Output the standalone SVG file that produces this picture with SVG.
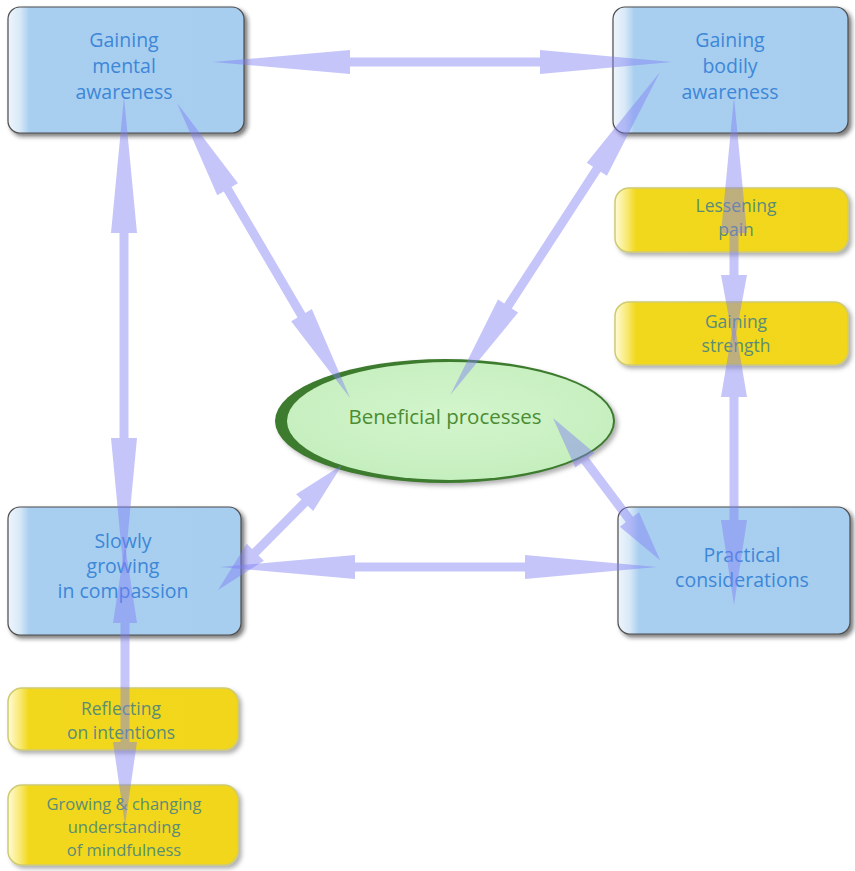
<svg xmlns="http://www.w3.org/2000/svg" width="855" height="871" viewBox="0 0 855 871">
  <defs>
    <linearGradient id="blueFill" x1="0" y1="0" x2="1" y2="0">
      <stop offset="0" stop-color="#eef5fc"/>
      <stop offset="0.05" stop-color="#d9e9f7"/>
      <stop offset="0.09" stop-color="#a9cff0"/>
      <stop offset="1" stop-color="#a7cdef"/>
    </linearGradient>
    <linearGradient id="yellowFill" x1="0" y1="0" x2="1" y2="0">
      <stop offset="0" stop-color="#fffbd6"/>
      <stop offset="0.05" stop-color="#f8ea78"/>
      <stop offset="0.09" stop-color="#f2d81c"/>
      <stop offset="1" stop-color="#f1d61a"/>
    </linearGradient>
    <radialGradient id="greenFill" cx="0.5" cy="0.45" r="0.6">
      <stop offset="0" stop-color="#d3f5cc"/>
      <stop offset="1" stop-color="#c4eebd"/>
    </radialGradient>
    <filter id="shadow" x="-10%" y="-10%" width="125%" height="130%">
      <feDropShadow dx="3" dy="3" stdDeviation="2" flood-color="#222" flood-opacity="0.6"/>
    </filter>
    <filter id="softShadow" x="-10%" y="-10%" width="125%" height="130%">
      <feDropShadow dx="3" dy="3" stdDeviation="2" flood-color="#555" flood-opacity="0.45"/>
    </filter>
  </defs>
  <style>
    .box { fill: url(#blueFill); stroke: #4d4d4d; stroke-width: 1.2; filter: url(#shadow); }
    .note { fill: url(#yellowFill); stroke: #cfcb72; stroke-width: 1.5; filter: url(#softShadow); }
    .t { font-family: "Open Sans", "Liberation Sans", sans-serif; text-anchor: middle; }
    .tb { fill: #3d87d8; font-size: 19.5px; }
    .ty { fill: #5b8c76; font-size: 17.5px; }
    .tg { fill: #4c8c33; font-size: 20.5px; }
    .arrow { fill: #7f7ff5; opacity: 0.45; }
  </style>

  <rect width="855" height="871" fill="#ffffff"/>

  <g id="mental-awareness">
    <rect class="box" x="8" y="7" width="236" height="126" rx="12"/>
    <text class="t tb"><tspan x="124" y="47">Gaining</tspan><tspan x="124" y="73">mental</tspan><tspan x="124" y="99">awareness</tspan></text>
  </g>

  <g id="bodily-awareness">
    <rect class="box" x="613" y="7" width="235" height="126" rx="12"/>
    <text class="t tb"><tspan x="730" y="47">Gaining</tspan><tspan x="730" y="73">bodily</tspan><tspan x="730" y="99">awareness</tspan></text>
  </g>

  <g id="lessening-pain">
    <rect class="note" x="615" y="188" width="233" height="64" rx="14"/>
    <text class="t ty"><tspan x="736" y="212">Lessening</tspan><tspan x="736" y="236">pain</tspan></text>
  </g>

  <g id="gaining-strength">
    <rect class="note" x="615" y="302" width="233" height="63" rx="14"/>
    <text class="t ty"><tspan x="736" y="328">Gaining</tspan><tspan x="736" y="352">strength</tspan></text>
  </g>

  <g id="beneficial-processes">
    <g filter="url(#softShadow)">
      <ellipse cx="445" cy="421" rx="170" ry="62" fill="#3d7b2d"/>
      <ellipse cx="450" cy="421" rx="163" ry="59" fill="url(#greenFill)"/>
    </g>
    <text class="t tg" x="445" y="424">Beneficial processes</text>
  </g>

  <g id="compassion">
    <rect class="box" x="8" y="507" width="233" height="128" rx="12"/>
    <text class="t tb"><tspan x="123" y="548">Slowly</tspan><tspan x="123" y="573">growing</tspan><tspan x="123" y="598">in compassion</tspan></text>
  </g>

  <g id="practical">
    <rect class="box" x="618" y="507" width="232" height="127" rx="12"/>
    <text class="t tb"><tspan x="742" y="562">Practical</tspan><tspan x="742" y="587">considerations</tspan></text>
  </g>

  <g id="reflecting">
    <rect class="note" x="8" y="688" width="230" height="62" rx="14"/>
    <text class="t ty"><tspan x="121" y="715">Reflecting</tspan><tspan x="121" y="739">on intentions</tspan></text>
  </g>

  <g id="understanding">
    <rect class="note" x="8" y="785" width="230" height="80" rx="14"/>
    <text class="t ty" style="font-size:16.5px"><tspan x="124" y="810">Growing &amp; changing</tspan><tspan x="124" y="833">understanding</tspan><tspan x="124" y="856">of mindfulness</tspan></text>
  </g>

  <!-- two-headed connectors: drawn along +x, then placed with translate/rotate -->
  <g id="connectors">
    <polygon class="arrow" transform="translate(213,62)" points="0,0 137,-12 137,-4.5 327,-4.5 327,-12 459,0 327,12 327,4.5 137,4.5 137,12"/>
    <polygon class="arrow" transform="translate(177,103) rotate(59.6)" points="0,0 100,-12 100,-4.5 246,-4.5 246,-12 342,0 246,12 246,4.5 100,4.5 100,12"/>
    <polygon class="arrow" transform="translate(660,72) rotate(123)" points="0,0 116,-12 116,-4.5 279,-4.5 279,-12 385,0 279,12 279,4.5 116,4.5 116,12"/>
    <polygon class="arrow" transform="translate(124,97) rotate(90)" points="0,0 136,-13 136,-4.5 341,-4.5 341,-13 478,0 341,13 341,4.5 136,4.5 136,13"/>
    <polygon class="arrow" transform="translate(125,545) rotate(90)" points="0,0 78,-12 78,-4.5 197,-4.5 197,-12 280,0 197,12 197,4.5 78,4.5 78,12"/>
    <polygon class="arrow" transform="translate(734,97) rotate(90)" points="0,0 136,-13 136,-4.5 178,-4.5 178,-13 248,0 178,13 178,4.5 136,4.5 136,13"/>
    <polygon class="arrow" transform="translate(734,320) rotate(90)" points="0,0 77,-13 77,-4.5 200,-4.5 200,-13 285,0 200,13 200,4.5 77,4.5 77,13"/>
    <polygon class="arrow" transform="translate(220,567)" points="0,0 135,-12 135,-4.5 305,-4.5 305,-12 437,0 305,12 305,4.5 135,4.5 135,12"/>
    <polygon class="arrow" transform="translate(342,465) rotate(134.8)" points="0,0 53,-12 53,-4.5 123,-4.5 123,-12 176,0 123,12 123,4.5 53,4.5 53,12"/>
    <polygon class="arrow" transform="translate(553,418) rotate(53)" points="0,0 53,-12 53,-4.5 127,-4.5 127,-12 178,0 127,12 127,4.5 53,4.5 53,12"/>
  </g>
</svg>
